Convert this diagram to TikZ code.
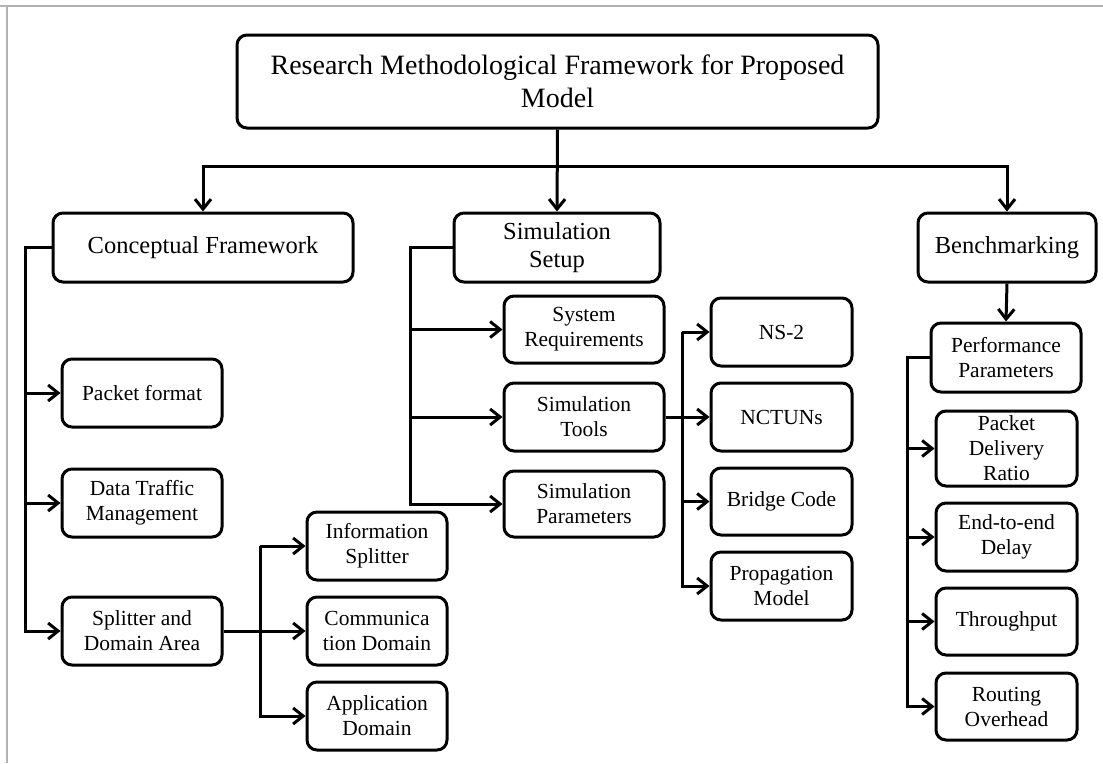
\documentclass[tikz,border=0pt]{standalone}
\usepackage{fontspec}
\setmainfont{Liberation Serif}
\usetikzlibrary{arrows.meta}

\tikzset{
  box/.style={draw, line width=3pt, rounded corners=10pt, inner sep=0pt,
              align=center, fill=white},
  topbox/.style={box, minimum width=641pt, minimum height=93pt,
                 font=\fontsize{28}{33}\selectfont},
  headbox/.style={box, minimum height=69pt, font=\fontsize{24.5}{28}\selectfont},
  itembox/.style={box, minimum height=68pt, font=\fontsize{21.5}{25}\selectfont},
  link/.style={line width=3pt},
  arr/.style={link, -{Straight Barb[length=10pt,width=16pt]}},
}

\begin{document}
\begin{tikzpicture}[x=1pt,y=-1pt]
  \useasboundingbox (0,0) rectangle (1103,763);
  % page frame edges
  \draw[gray!60, line width=1.3pt] (0,6) -- (1103,6);
  \draw[gray!60, line width=1.3pt] (7,6) -- (7,763);

  % title
  \node[topbox] (title) at (557.5,81.5)
    {Research Methodological Framework for Proposed\\Model};

  % main branches
  \node[headbox, minimum width=300pt] (concept)  at (203,247.5) {Conceptual Framework};
  \node[headbox, minimum width=206pt] (simsetup) at (557,247.5) {Simulation\\Setup};
  \node[headbox, minimum width=178pt] (bench)    at (1007,247.5) {Benchmarking};

  % conceptual framework items
  \node[itembox, minimum width=160pt] (packet)   at (142,393) {Packet format};
  \node[itembox, minimum width=160pt] (traffic)  at (142,503) {Data Traffic\\Management};
  \node[itembox, minimum width=160pt] (splitter) at (142,631) {Splitter and\\Domain Area};

  % splitter items
  \node[itembox, minimum width=140pt] (infosplit) at (377,546) {Information\\Splitter};
  \node[itembox, minimum width=140pt] (commdom)   at (377,631) {Communica\\tion Domain};
  \node[itembox, minimum width=140pt] (appdom)    at (377,716) {Application\\Domain};

  % simulation setup items
  \node[itembox, minimum width=160pt, minimum height=67pt] (sysreq) at (584,329.5) {System\\Requirements};
  \node[itembox, minimum width=160pt] (simtools)  at (584,417) {Simulation\\Tools};
  \node[itembox, minimum width=160pt, minimum height=66pt] (simparams) at (584,504) {Simulation\\Parameters};

  % simulation tools items
  \node[itembox, minimum width=141pt] (ns2)    at (781.5,332) {NS-2};
  \node[itembox, minimum width=141pt] (nctuns) at (781.5,417) {NCTUNs};
  \node[itembox, minimum width=141pt, minimum height=67pt] (bridge) at (781.5,501.5) {Bridge Code};
  \node[itembox, minimum width=141pt] (prop)   at (781.5,586) {Propagation\\Model};

  % benchmarking items
  \node[itembox, minimum width=150pt, minimum height=69pt] (perf) at (1006,357.5) {Performance\\Parameters};
  \node[itembox, minimum width=141pt, minimum height=75pt] (pdr)  at (1006.5,448.5) {Packet\\Delivery\\Ratio};
  \node[itembox, minimum width=141pt] (e2e)     at (1006.5,537) {End-to-end\\Delay};
  \node[itembox, minimum width=141pt, minimum height=67pt] (thr) at (1006.5,621.5) {Throughput};
  \node[itembox, minimum width=141pt, minimum height=67pt] (routing) at (1006.5,706.5) {Routing\\Overhead};

  % spine positions
  \coordinate (bus) at (0,166);
  \coordinate (cx)  at (25,0);
  \coordinate (sx)  at (260,0);
  \coordinate (ssx) at (410,0);
  \coordinate (tx)  at (682,0);
  \coordinate (px)  at (907,0);

  % title to main branches
  \draw[arr] (title.south) -- (simsetup.north);
  \draw[arr] (title.south |- bus) -| (concept.north);
  \draw[arr] (title.south |- bus) -| (bench.north);

  % conceptual framework
  \draw[arr] (concept.west) -| (cx |- splitter.west) -- (splitter.west);
  \draw[arr] (cx |- packet.west) -- (packet.west);
  \draw[arr] (cx |- traffic.west) -- (traffic.west);

  % splitter and domain area
  \draw[arr] (splitter.east) -- (commdom.west);
  \draw[arr] (sx |- infosplit.west) -- (infosplit.west);
  \draw[arr] (sx |- infosplit.west) |- (appdom.west);

  % simulation setup
  \draw[arr] (simsetup.west) -| (ssx |- simparams.west) -- (simparams.west);
  \draw[arr] (ssx |- sysreq.west) -- (sysreq.west);
  \draw[arr] (ssx |- simtools.west) -- (simtools.west);

  % simulation tools
  \draw[arr] (simtools.east) -- (nctuns.west);
  \draw[arr] (tx |- ns2.west) -- (ns2.west);
  \draw[arr] (tx |- ns2.west) |- (prop.west);
  \draw[arr] (tx |- bridge.west) -- (bridge.west);

  % benchmarking
  \draw[arr] (bench.south) -- (perf.north);
  \draw[arr] (perf.west) -| (px |- routing.west) -- (routing.west);
  \draw[arr] (px |- pdr.west) -- (pdr.west);
  \draw[arr] (px |- e2e.west) -- (e2e.west);
  \draw[arr] (px |- thr.west) -- (thr.west);
\end{tikzpicture}
\end{document}
